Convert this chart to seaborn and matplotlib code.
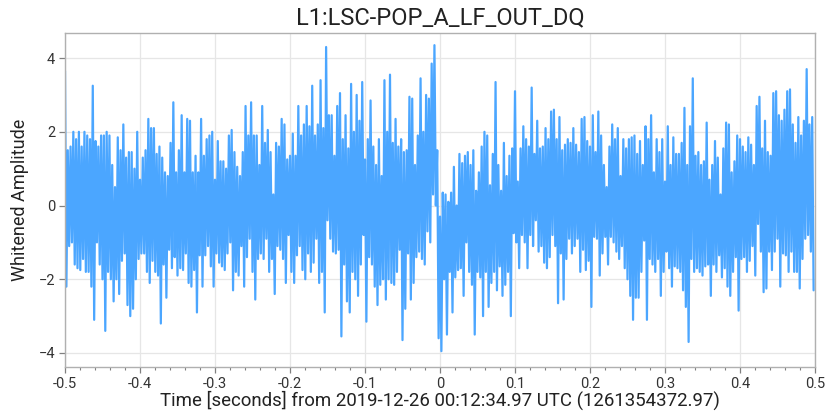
import numpy as np
import pandas as pd
import matplotlib
matplotlib.use("Agg")
import matplotlib.pyplot as plt
from matplotlib.ticker import MultipleLocator, FuncFormatter, FixedLocator
import seaborn as sns

CHANNEL = "L1:LSC-POP_A_LF_OUT_DQ"
X_LABEL = "Time [seconds] from 2019-12-26 00:12:34.97 UTC (1261354372.97)"
Y_LABEL = "Whitened Amplitude"
X_TICKS = [-0.5, -0.4, -0.3, -0.2, -0.1, 0.0, 0.1, 0.2, 0.3, 0.4, 0.5]
Y_TICKS = [-4, -2, 0, 2, 4]
LINE_COLOR = "#4ba6ff"

# Whitened strain, stored as successive local maxima / minima.
# Each pair of lists spans 1/6 s of the one-second window around the event.
peaks_1 = [3.65, 1.5, 1.6, 2.0, 1.8, 2.0, 1.6, 2.0, 1.9, 1.8, 3.25, 1.75, 1.6, 1.9, 1.9,
           2.0, 1.9, 1.1, 0.5, 1.85, 1.5, 2.2, 1.3, 1.45, 1.45, 1.0, 2.0, 0.7, 1.3, 1.5,
           2.35, 2.1, 2.1, 1.4, 1.6, 1.3, 0.9, 0.8, 1.7, 2.8, 0.9, 1.5, 2.45, 0.9, 2.35]
troughs_1 = [-2.2, -1.1, -1.0, -1.6, -1.7, -1.75, -1.45, -1.8, -1.8, -2.2, -3.1, -1.0, -1.6, -2.0, -3.4,
             -1.8, -2.0, -2.6, -2.0, -2.4, -1.5, -1.3, -2.7, -3.0, -2.8, -2.0, -1.45, -1.3, -1.3, -1.8,
             -2.1, -1.5, -1.8, -1.9, -3.2, -1.6, -2.5, -1.2, -1.7, -1.4, -1.9, -1.7, -1.75, -1.3, -2.1]

peaks_2 = [2.3, 0.9, 1.35, 0.9, 2.35, 1.35, 1.8, 1.9, 2.0, 0.7, 1.75, 1.2, 1.2, 1.0, 1.9,
           2.05, 1.45, 1.05, 0.8, 1.45, 2.7, 1.9, 2.8, 1.9, 1.9, 1.1, 2.7, 1.7, 2.05, 1.45,
           0.3, 1.7, 1.6, 2.35, 2.2, 1.25, 1.35, 1.95, 1.35, 2.7, 1.9, 2.2, 2.7, 2.15, 3.25]
troughs_2 = [-2.2, -1.75, -2.9, -1.35, -2.2, -1.35, -1.1, -1.65, -2.2, -1.3, -1.55, -1.65, -1.75, -1.3, -1.0,
             -2.3, -1.8, -1.9, -1.1, -2.2, -1.4, -0.9, -1.8, -2.55, -1.45, -1.3, -1.45, -0.9, -1.8, -1.45,
             -2.4, -1.1, -1.2, -1.45, -2.1, -0.8, -1.8, -2.1, -1.35, -1.1, -1.75, -2.0, -1.3, -1.8, -1.55]

peaks_3 = [1.9, 2.2, 3.4, 2.1, 4.3, 2.45, 2.45, 1.35, 2.7, 3.05, 1.8, 2.45, 1.55, 3.3, 2.0,
           3.0, 2.3, 3.35, 1.25, 1.8, 2.85, 1.6, 1.1, 1.8, 0.8, 3.4, 2.0, 3.55, 1.7, 2.35,
           1.6, 1.8, 1.45, 1.5, 2.95, 2.9, 1.1, 1.9, 3.45, 2.0, 3.0, 2.9, 3.85, 4.35, 1.5]
troughs_3 = [-0.9, -2.1, -1.8, -2.9, -0.4, -0.9, -1.25, -1.3, -1.2, -3.55, -1.6, -2.6, -2.9, -1.8, -2.0,
             -2.45, -1.6, -0.8, -3.15, -1.4, -1.6, -2.2, -2.7, -2.15, -2.0, -2.55, -2.0, -2.1, -2.15, -1.8,
             -1.2, -3.65, -2.8, -1.3, -2.55, -2.1, -1.4, -1.25, -1.45, -1.6, -0.7, -1.0, 0.3, 0.0, -3.6]

peaks_4 = [-0.3, 0.35, 0.3, 0.1, 0.35, 1.05, 0.0, 1.4, 1.15, 1.35, 1.45, 1.1, 1.5, 0.4, 0.9,
           1.6, 2.0, 1.9, 0.55, 1.4, 3.35, 1.1, 0.4, 1.7, 0.8, 1.35, 1.55, 3.1, 0.65, 1.55,
           2.15, 1.8, 1.6, 3.2, 1.4, 2.3, 1.55, 1.6, 2.1, 1.8, 2.55, 2.6, 1.8, 2.4, 1.5]
troughs_4 = [-3.95, -2.0, -3.5, -1.8, -2.9, -1.95, -1.75, -1.7, -2.45, -1.0, -1.8, -2.15, -3.5, -1.8, -1.95,
             -3.0, -1.8, -2.75, -2.1, -1.8, -2.3, -1.65, -2.45, -2.15, -1.8, -3.0, -0.75, -1.0, -1.7, -0.8,
             -1.0, -1.7, -0.8, -1.1, -0.4, -1.25, -1.1, -1.55, -1.7, -1.4, -0.8, -1.1, -2.65, -1.3, -2.55]

peaks_5 = [1.65, 1.8, 1.7, 2.1, 1.65, 1.45, 2.35, 2.4, 1.75, 1.6, 2.45, 1.45, 2.55, 1.9, 1.1,
           0.5, 1.6, 2.2, 1.8, 2.1, 0.8, 1.8, 1.55, 1.8, 1.85, 1.9, 1.4, 1.75, 1.1, 2.15,
           1.8, 2.45, 0.9, 1.8, 1.45, 1.8, 0.65, 2.15, 1.1, 1.85, 1.4, 1.4, 1.7, 2.65, 1.1]
troughs_5 = [-1.45, -0.9, -1.3, -1.1, -0.9, -1.8, -1.2, -1.75, -1.5, -2.75, -0.85, -0.9, -1.9, -1.3, -0.85,
             -1.6, -0.85, -1.0, -1.25, -1.45, -1.1, -1.7, -2.0, -2.45, -3.1, -2.5, -2.5, -1.8, -0.95, -3.1,
             -1.45, -1.6, -1.8, -1.45, -2.45, -1.8, -1.25, -1.7, -2.2, -1.65, -1.7, -1.8, -2.3, -2.75, -3.7]

peaks_6 = [2.15, 3.45, 1.35, 1.45, 1.1, 1.2, 2.25, 0.7, 1.1, 1.75, 1.3, 0.3, 1.55, 2.25, 2.2,
           0.9, 1.2, 1.9, 1.8, 1.6, 1.45, 1.85, 1.65, 1.1, 2.7, 2.95, 1.55, 2.3, 1.45, 1.35,
           3.05, 3.1, 2.45, 2.3, 2.6, 3.1, 3.15, 2.2, 1.7, 2.4, 1.9, 2.3, 3.7, 2.2, 2.4]
troughs_6 = [-1.45, -1.8, -1.7, -1.8, -1.9, -1.65, -1.6, -2.45, -1.6, -1.8, -1.35, -1.95, -1.7, -2.2, -2.45,
             -1.8, -1.4, -2.85, -1.45, -1.4, -1.8, -1.5, -1.1, -1.9, -0.5, -1.25, -2.35, -2.25, -1.25, -1.75,
             -1.25, -0.9, -2.2, -1.3, -1.35, -1.8, -1.25, -1.8, -1.8, -2.25, -1.45, -0.9, -0.8, -1.25, -2.3]

T_START, T_END = -0.5, 0.5

peaks = peaks_1 + peaks_2 + peaks_3 + peaks_4 + peaks_5 + peaks_6
troughs = troughs_1 + troughs_2 + troughs_3 + troughs_4 + troughs_5 + troughs_6

# alternate maxima and minima on a uniform time grid
step = (T_END - T_START) / len(peaks)
times, amps = [], []
for k, (hi, lo) in enumerate(zip(peaks, troughs)):
    times.append(T_START + k * step)
    amps.append(hi)
    times.append(T_START + (k + 0.5) * step)
    amps.append(lo)
df = pd.DataFrame({"time": times, "amplitude": amps})

sns.set_theme(style="whitegrid")
plt.rcParams["font.family"] = ["Roboto", "DejaVu Sans"]
plt.rcParams["axes.unicode_minus"] = True

fig = plt.figure(figsize=(8.27, 4.11), dpi=100)
ax = fig.add_axes([65 / 827, 1 - 367 / 411, 750 / 827, 334 / 411])

sns.lineplot(data=df, x="time", y="amplitude", ax=ax, color=LINE_COLOR,
             linewidth=1.6, estimator=None, sort=False)

ax.set_xlim(T_START, T_END)
ax.set_ylim(-4.38, 4.68)
ax.xaxis.set_major_locator(FixedLocator(X_TICKS))
ax.xaxis.set_minor_locator(MultipleLocator(0.02))
ax.xaxis.set_major_formatter(FuncFormatter(lambda v, _: "0" if abs(v) < 1e-9 else f"{v:.1f}"))
ax.yaxis.set_major_locator(FixedLocator(Y_TICKS))

ax.set_facecolor("white")
ax.grid(True, which="major", color="#e6e6e6", linewidth=0.9)
ax.grid(False, which="minor")
for side in ax.spines.values():
    side.set_color("#b0b0b0")
    side.set_linewidth(1.0)

ax.tick_params(axis="both", which="major", direction="out", length=4, width=0.9,
               color="#808080", labelsize=10.5, labelcolor="#333333", pad=3,
               bottom=True, left=True, top=False, right=False)
ax.tick_params(axis="x", which="minor", direction="out", length=2, width=0.8,
               color="#808080", bottom=True, top=False)

ax.set_title(CHANNEL, fontsize=17, color="#222222", pad=6)
ax.set_xlabel(X_LABEL, fontsize=13.4, color="#222222", labelpad=0)
ax.set_ylabel(Y_LABEL, fontsize=13, color="#222222", labelpad=7)

fig.savefig("out.png", dpi=100, facecolor="white")
